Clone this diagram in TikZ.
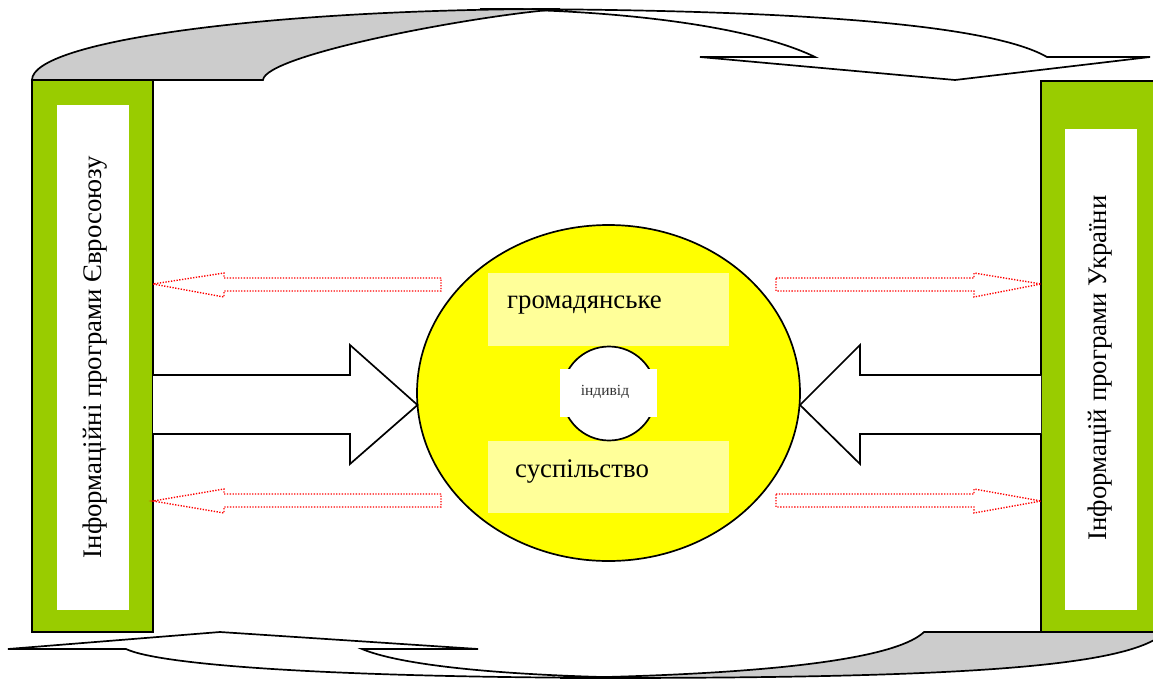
\documentclass[tikz,border=0pt]{standalone}
\usepackage{fontspec}
\setmainfont{Liberation Serif}
\usepackage{xcolor}
\usepackage{tikz}
\usetikzlibrary{shapes.geometric,positioning,calc}

\definecolor{bargreen}{HTML}{99CC00}
\definecolor{paleyellow}{HTML}{FFFF99}
\definecolor{brightyellow}{HTML}{FFFF00}
\definecolor{backgray}{HTML}{CCCCCC}

\begin{document}
\begin{tikzpicture}[x=1pt, y=-1pt, line join=miter]
	\tikzstyle{outline}=[draw=black, line width=1.7pt]
	\tikzstyle{bar}=[draw=black, line width=1.2pt, fill=bargreen]
	\tikzstyle{blockarrow}=[outline, fill=white]
	\tikzstyle{infoarrow}=[draw=red, line width=1.4pt, dash pattern=on 1.3pt off 1.5pt]
	\tikzstyle{bigtext}=[font=\fontsize{26.8}{30}\selectfont, inner sep=0pt]
	\useasboundingbox (0,0) rectangle (1153,680);

	% curved arrow on top
	\draw[outline, fill=white] (815,57) -- (700,57) -- (955,80) -- (1150,57) -- (1047,57)
		.. controls (1000,30) and (850,9) .. (480,9)
		.. controls (640,10) and (760,30) .. (815,57) -- cycle;
	\draw[outline, fill=backgray] (263,80) -- (32,80)
		.. controls (32,41) and (268,9) .. (560,9)
		.. controls (470,16) and (265,55) .. (263,80) -- cycle;

	% side bars
	\draw[bar] (32,80) rectangle (153,632);
	\fill[white] (57,105) rectangle (129,610);
	\node[bigtext, rotate=90] (euprog) at (95,357) {Інформаційні програми Євросоюзу};
	\draw[bar] (1041,81) rectangle (1170,632);
	\fill[white] (1065,129) rectangle (1137,610);
	\node[bigtext, rotate=90] (uaprog) at (1100,368) {Інформацій програми України};

	% curved arrow at the bottom
	\draw[outline, fill=backgray] (924,632) -- (1165,632)
		.. controls (1130,668) and (950,678) .. (600,678) -- (560,678)
		.. controls (800,674) and (900,655) .. (924,632) -- cycle;
	\draw[outline, fill=white] (362,649) -- (478,649) -- (220,632) -- (8,649) -- (126,649)
		.. controls (160,665) and (330,678) .. (650,678)
		.. controls (500,676) and (400,665) .. (362,649) -- cycle;

	% centre
	\node[ellipse, outline, fill=brightyellow, minimum width=383pt, minimum height=336pt, inner sep=0pt] (society) at (608.5,393) {};
	\node[fill=paleyellow, minimum width=241pt, minimum height=73pt, inner sep=0pt] (upper) at (608.5,309.5) {};
	\node[fill=paleyellow, minimum width=241pt, minimum height=72pt, inner sep=0pt] (lower) at (608.5,477) {};
	\node[bigtext, anchor=base west] (civil) at (507,308) {громадянське};
	\node[bigtext, anchor=base west] (soc) at (515,477) {суспільство};
	\node[circle, outline, fill=white, minimum size=94pt, inner sep=0pt] (person) at (609,393.5) {};
	\node[fill=white, minimum width=97pt, minimum height=48pt, inner sep=0pt] (patch) at (608.5,393) {};
	\node[anchor=base, font=\fontsize{15.5}{18}\selectfont, text=black!80, inner sep=0pt] (indiv) at (605,395) {індивід};

	% block arrows
	\draw[blockarrow] (153,375) -- (350,375) -- (350,345) -- (417.5,405) -- (350,464) -- (350,434) -- (153,434);
	\draw[blockarrow] (1041,375) -- (860,375) -- (860,345) -- (800,405) -- (860,464) -- (860,434) -- (1041,434);

	% dotted arrows
	\draw[infoarrow] (441,278) -- (224,278) -- (224,273) -- (153,284) -- (224,297) -- (224,291) -- (441,291) -- cycle;
	\draw[infoarrow] (441,494) -- (224,494) -- (224,489) -- (153,501) -- (224,513) -- (224,507) -- (441,507) -- cycle;
	\draw[infoarrow] (776,278) -- (974,278) -- (974,273) -- (1041,284) -- (974,297) -- (974,291) -- (776,291) -- cycle;
	\draw[infoarrow] (776,494) -- (974,494) -- (974,489) -- (1041,501) -- (974,513) -- (974,507) -- (776,507) -- cycle;
\end{tikzpicture}
\end{document}
